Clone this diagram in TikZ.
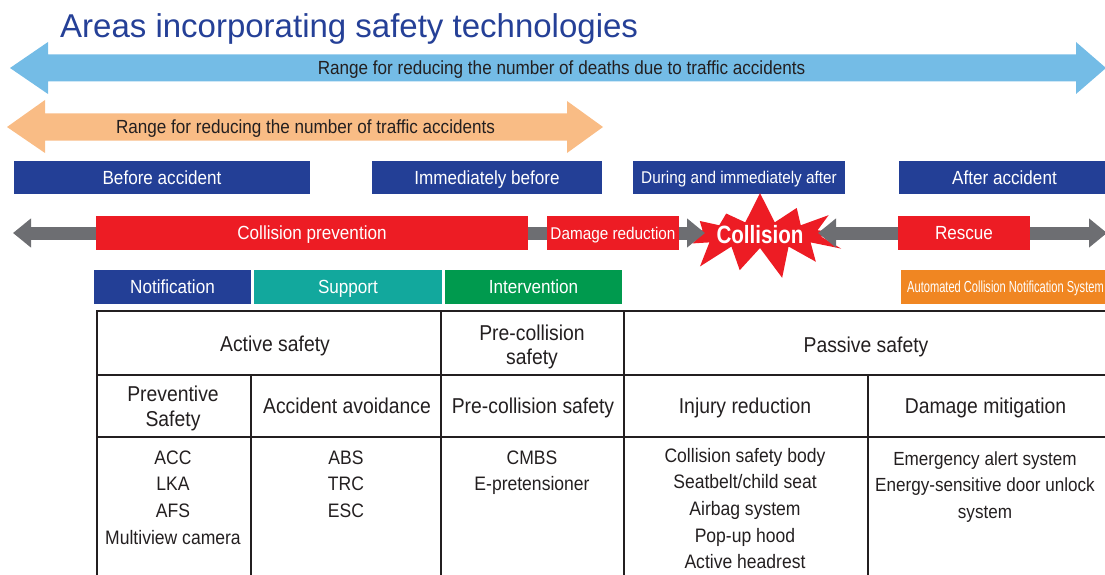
\documentclass[tikz,border=0pt]{standalone}
\usepackage{fontspec}
\setmainfont{Liberation Sans}
\newfontfamily\cn{Liberation Sans}[FakeStretch=0.9]
\usetikzlibrary{arrows.meta,shapes.symbols}
\definecolor{titleblue}{RGB}{37,64,151}
\definecolor{boxblue}{RGB}{35,63,150}
\definecolor{lightblue}{RGB}{116,188,230}
\definecolor{lightorange}{RGB}{249,188,133}
\definecolor{arrowgray}{RGB}{109,110,114}
\definecolor{alertred}{RGB}{237,28,36}
\definecolor{teal}{RGB}{18,168,157}
\definecolor{okgreen}{RGB}{0,154,78}
\definecolor{boxorange}{RGB}{240,134,34}
\definecolor{ink}{RGB}{35,31,32}
\tikzset{
  lbl/.style={inner sep=0pt, text depth=0pt},
  boxbase/.style={lbl, minimum height=33.5pt, text=white, font=\cn\fontsize{19}{21}\selectfont, text height=13.6pt},
  bluebox/.style={boxbase, fill=boxblue},
  redbox/.style={boxbase, fill=alertred},
  tealbox/.style={boxbase, fill=teal},
  greenbox/.style={boxbase, fill=okgreen},
  orangebox/.style={boxbase, fill=boxorange},
  arrowlbl/.style={lbl, text=ink, font=\cn\fontsize{19}{21}\selectfont, text height=13.6pt},
  thead/.style={lbl, text=ink, font=\cn\fontsize{21.5}{23}\selectfont, text height=15.4pt},
  tbody/.style={lbl, text=ink, font=\cn\fontsize{19.5}{21}\selectfont, text height=14pt},
  grayarrow/.style={draw=arrowgray, line width=13pt, -{Triangle[length=18pt,width=28pt]}},
  grayshaft/.style={draw=arrowgray, line width=13pt},
  tableframe/.style={draw=ink, line width=2.2pt},
  tablerule/.style={draw=ink, line width=1.5pt},
}
\begin{document}
\begin{tikzpicture}[x=1pt,y=-1pt]
\useasboundingbox (0,0) rectangle (1105,575);
\clip (0,0) rectangle (1105,575);

% title
\node[lbl, anchor=base west, text=titleblue, font=\fontsize{33}{36}\selectfont] (title) at (60,38) {Areas incorporating safety technologies};

% big range arrows
\fill[lightblue] (10,68) -- (48,42) -- (48,54.5) -- (1076,54.5) -- (1076,42) -- (1106,68) -- (1076,94) -- (1076,81.5) -- (48,81.5) -- (48,94) -- cycle;
\node[arrowlbl] (deaths) at (561.5,68) {Range for reducing the number of deaths due to traffic accidents};
\fill[lightorange] (7,127) -- (45,100) -- (45,113.5) -- (567,113.5) -- (567,101) -- (603,127) -- (567,153) -- (567,140.5) -- (45,140.5) -- (45,153) -- cycle;
\node[arrowlbl] (accidents) at (305.5,127) {Range for reducing the number of traffic accidents};

% phase boxes
\node[bluebox, minimum width=296pt] (before) at (162,177.5) {Before accident};
\node[bluebox, minimum width=230pt] (immed) at (487,177.5) {Immediately before};
\node[bluebox, minimum width=212pt, font=\cn\fontsize{17}{19}\selectfont, text height=12.2pt] (during) at (739,177.5) {During and immediately after};
\node[bluebox, minimum width=211pt] (after) at (1004.5,177.5) {After accident};

% collision star
\node[starburst, fill=alertred, starburst points=13, starburst point height=32pt, random starburst=7,
      minimum width=132pt, minimum height=90pt, inner sep=0pt, text=white,
      font=\cn\bfseries\fontsize{25}{27}\selectfont] (collision) at (760,235) {\scalebox{0.915}[1]{Collision}};

% timeline boxes
\node[redbox, minimum width=432pt, minimum height=34pt] (prevent) at (312,233) {Collision prevention};
\node[redbox, minimum width=132pt, minimum height=34pt, font=\cn\fontsize{17}{19}\selectfont, text height=12.2pt] (damage) at (613,233) {Damage reduction};
\node[redbox, minimum width=132pt, minimum height=34pt] (rescue) at (964,233) {Rescue};

\coordinate (leftend) at (13,233);
\coordinate (rightend) at (1107,233);
\coordinate (hitleft) at (705,233);
\coordinate (hitright) at (818,233);
\draw[grayarrow] (prevent.west) -- (leftend);
\draw[grayshaft] (prevent.east) -- (damage.west);
\draw[grayarrow] (damage.east) -- (hitleft);
\draw[grayarrow] (rescue.west) -- (hitright);
\draw[grayarrow] (rescue.east) -- (rightend);

% function boxes
\node[bluebox, minimum width=157pt, minimum height=34pt] (notif) at (172.5,287) {Notification};
\node[tealbox, minimum width=188pt, minimum height=34pt] (support) at (348,287) {Support};
\node[greenbox, minimum width=177pt, minimum height=34pt] (interv) at (533.5,287) {Intervention};
\node[orangebox, minimum width=209pt, minimum height=34pt, font=\cn\fontsize{16}{18}\selectfont, text height=11.5pt] (acns) at (1005.5,287) {\scalebox{0.77}[1]{Automated Collision Notification System}};

% table
\draw[tableframe] (97,580) -- (97,311) -- (1110,311);
\draw[tablerule] (97,375) -- (1110,375);
\draw[tablerule] (97,437) -- (1110,437);
\draw[tablerule] (251,375) -- (251,580);
\draw[tablerule] (441,311) -- (441,580);
\draw[tablerule] (624,311) -- (624,580);
\draw[tablerule] (868,375) -- (868,580);

\node[thead] (active) at (275,344) {Active safety};
\node[thead] (pre1) at (532,333) {Pre-collision};
\node[thead] (pre2) at (532,357) {safety};
\node[thead] (passive) at (866,345) {Passive safety};
\node[thead] (prev1) at (173,394) {Preventive};
\node[thead] (prev2) at (173,419) {Safety};
\node[thead] (avoid) at (347,406) {Accident avoidance};
\node[thead] (precol) at (533,406) {Pre-collision safety};
\node[thead] (injury) at (745,406) {Injury reduction};
\node[thead] (mitig) at (985.5,406) {Damage mitigation};

\foreach \t [count=\i] in {ACC,LKA,AFS,Multiview camera}
  \node[tbody] (prevbody\i) at (173,{457+26.7*(\i-1)}) {\t};
\foreach \t [count=\i] in {ABS,TRC,ESC}
  \node[tbody] (avoidbody\i) at (346,{457+26.7*(\i-1)}) {\t};
\foreach \t [count=\i] in {CMBS,E-pretensioner}
  \node[tbody] (precolbody\i) at (532,{457+26.7*(\i-1)}) {\t};
\foreach \t [count=\i] in {Collision safety body,Seatbelt/child seat,Airbag system,Pop-up hood,Active headrest}
  \node[tbody] (injurybody\i) at (745,{455+26.7*(\i-1)}) {\t};
\foreach \t [count=\i] in {Emergency alert system,Energy-sensitive door unlock,system}
  \node[tbody, font=\cn\fontsize{19}{21}\selectfont] (mitigbody\i) at (985,{458+26.7*(\i-1)}) {\t};
\end{tikzpicture}
\end{document}
